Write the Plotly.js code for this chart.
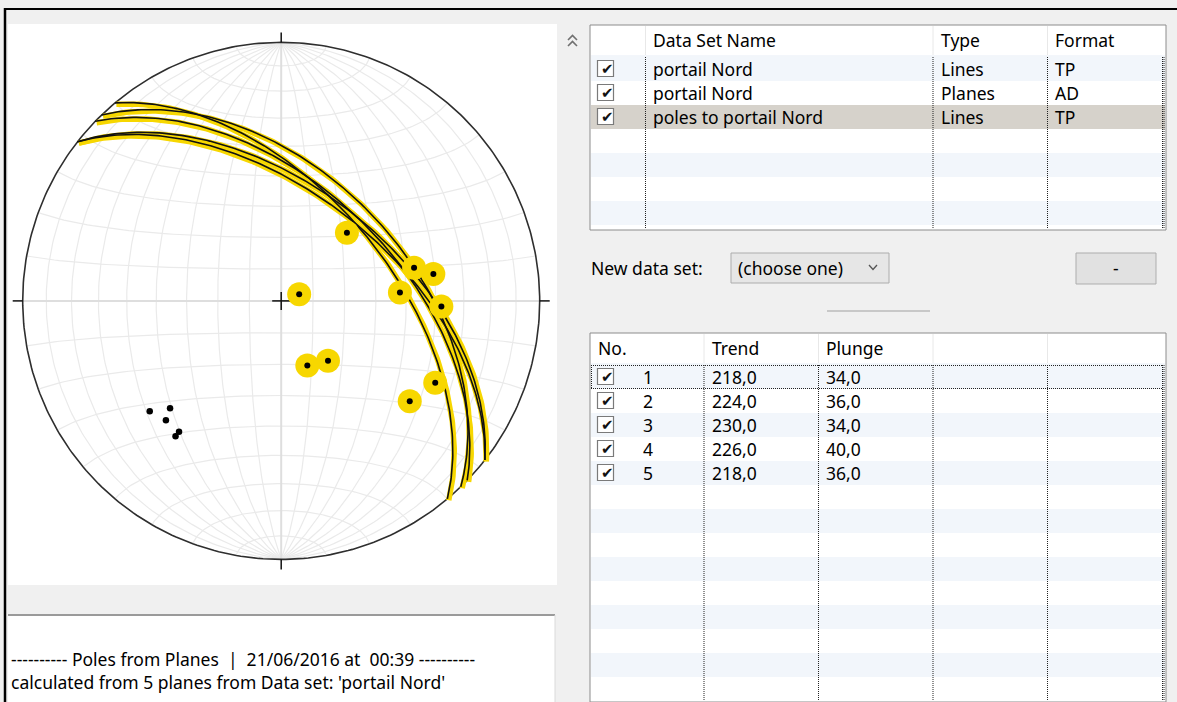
<!DOCTYPE html>
<html><head><meta charset="utf-8">
<script src="https://cdn.plot.ly/plotly-3.0.1.min.js"></script>
<style>html,body{margin:0;padding:0;background:#f0f0f0;overflow:hidden}#chart{width:1177px;height:702px;}</style>
</head><body><div id="chart"></div>
<script>
// ---- data ----
const poleTrend = [218, 224, 230, 226, 218];
const polePlunge = [34, 36, 34, 40, 36];
const planeDipDir = [38, 44, 50, 46, 38];
const planeDip = [56, 54, 56, 50, 54];
const lineTrend = [44, 76, 80, 86, 92, 70, 158, 142, 118, 128];
const linePlunge = [60, 46, 40, 52, 38, 84, 68, 66, 33, 37];

const dsHeader = ['', 'Data Set Name', 'Type', 'Format'];
const dsNames = ['portail Nord', 'portail Nord', 'poles to portail Nord'];
const dsTypes = ['Lines', 'Planes', 'Lines'];
const dsFormats = ['TP', 'AD', 'TP'];
const dsSelected = 2;
const poleHeader = ['No.', '', 'Trend', 'Plunge', '', ''];
const logLines = ['---------- Poles from Planes\u00a0 |\u00a0 21/06/2016 at\u00a0 00:39 ----------',
                  "calculated from 5 planes from Data set: 'portail Nord'"];

// ---- geometry ----
const W = 1177, H = 702;
const CX = 281.2, CY = 300.9, R = 258.5;
const rad = Math.PI / 180;
const X = x => x / W, Y = y => 1 - y / H;
const FONT = 'Noto Sans';
const FS = 17.5;

function projVec(e, n, d) { const k = 1 / Math.sqrt(1 + d); return [e * k, n * k]; }
function projLine(t, p) {
  t *= rad; p *= rad;
  return projVec(Math.cos(p) * Math.sin(t), Math.cos(p) * Math.cos(t), Math.sin(p));
}
function greatCircle(dd, dip, xs, ys) {
  const s = (dd - 90) * rad, a0 = dd * rad, d = dip * rad;
  const u1 = [Math.sin(s), Math.cos(s), 0];
  const u2 = [Math.cos(d) * Math.sin(a0), Math.cos(d) * Math.cos(a0), Math.sin(d)];
  for (let a = 0; a <= 180; a += 1) {
    const c = Math.cos(a * rad), sn = Math.sin(a * rad);
    const p = projVec(c * u1[0] + sn * u2[0], c * u1[1] + sn * u2[1], Math.max(0, c * u1[2] + sn * u2[2]));
    xs.push(p[0]); ys.push(p[1]);
  }
  xs.push(null); ys.push(null);
}
function smallCircleNS(cone, sign, xs, ys) {
  const c = cone * rad;
  for (let f = 0; f <= 180; f += 2) {
    const p = projVec(Math.sin(c) * Math.cos(f * rad), sign * Math.cos(c), Math.sin(c) * Math.sin(f * rad));
    xs.push(p[0]); ys.push(p[1]);
  }
  xs.push(null); ys.push(null);
}

// grid net (10 degree)
const gx = [], gy = [];
for (let d = 10; d <= 80; d += 10) { greatCircle(90, d, gx, gy); greatCircle(270, d, gx, gy); }
for (let c = 10; c <= 80; c += 10) { smallCircleNS(c, 1, gx, gy); smallCircleNS(c, -1, gx, gy); }
const cx = [], cy = [];
greatCircle(90, 90, cx, cy); smallCircleNS(90, 1, cx, cy);

// primitive
const px = [], py = [];
for (let a = 0; a <= 360; a += 1) { px.push(Math.sin(a * rad)); py.push(Math.cos(a * rad)); }

// ticks + centre cross
const tk = 10 / R, cr = 9 / R;
const tx = [0, 0, null, 1, 1 + tk, null, 0, 0, null, -1, -1 - tk, null, -cr, cr, null, 0, 0];
const ty = [1, 1 + tk, null, 0, 0, null, -1, -1 - tk, null, 0, 0, null, 0, 0, null, -cr, cr];

// planes
const plx = [], ply = [];
planeDipDir.forEach((dd, i) => greatCircle(dd, planeDip[i], plx, ply));
const off = 1.4 / R;
const plxY = plx.map(v => v === null ? null : v + off);
const plyY = ply.map(v => v === null ? null : v - off);

const lp = lineTrend.map((t, i) => projLine(t, linePlunge[i]));
const pp = poleTrend.map((t, i) => projLine(t, polePlunge[i]));

const YEL = '#f7d700';
const traces = [
  {x: gx, y: gy, mode: 'lines', line: {color: '#eaeaea', width: 1.2}, hoverinfo: 'skip'},
  {x: cx, y: cy, mode: 'lines', line: {color: '#dedede', width: 2}, hoverinfo: 'skip'},
  {x: px, y: py, mode: 'lines', line: {color: '#2e2e2e', width: 1.6}, hoverinfo: 'skip'},
  {x: tx, y: ty, mode: 'lines', line: {color: '#111', width: 1.5}, hoverinfo: 'skip'},
  {x: plxY, y: plyY, mode: 'lines', line: {color: YEL, width: 5.5}, hoverinfo: 'skip'},
  {x: plx, y: ply, mode: 'lines', line: {color: '#111', width: 1.6}, hoverinfo: 'skip'},
  {x: lp.map(p => p[0]), y: lp.map(p => p[1]), mode: 'markers', marker: {size: 24, color: YEL}, hoverinfo: 'skip'},
  {x: lp.map(p => p[0]), y: lp.map(p => p[1]), mode: 'markers', marker: {size: 6, color: '#000'}, hoverinfo: 'skip'},
  {x: pp.map(p => p[0]), y: pp.map(p => p[1]), mode: 'markers', marker: {size: 6.5, color: '#000'}, hoverinfo: 'skip'}
];

// ---- tables ----
const ROWH = 24, HDRH = 31, TXT_SHIFT = 2;
const T1 = {x0: 590, x1: 1166, top: 26, bottom: 230, rows: 7};
const T2 = {x0: 590, x1: 1166, top: 334, bottom: 702, rows: 14};
function pad(arr, n) { const a = arr.slice(); while (a.length < n) a.push(''); return a; }
const fmt = v => v.toFixed(1).replace('.', ',');
const CHECK = '\u2009\u2714';
const chk1 = dsNames.map(() => CHECK);
const chk2 = poleTrend.map(() => CHECK);
const cellFont = (n, chkCols) => ({
  family: Array.from({length: n}, (_, i) => chkCols.includes(i) ? 'DejaVu Sans' : FONT),
  size: Array.from({length: n}, (_, i) => chkCols.includes(i) ? 15 : FS),
  color: Array.from({length: n}, (_, i) => chkCols.includes(i) ? '#111' : '#000')
});
traces.push({
  type: 'table',
  domain: {x: [X(T1.x0), X(T1.x1)], y: [Y(T1.top + HDRH - TXT_SHIFT + ROWH * T1.rows + 1), Y(T1.top)]},
  columnwidth: [55, 288, 114, 119],
  header: {values: dsHeader, height: HDRH - TXT_SHIFT, align: 'left', fill: {color: 'rgba(0,0,0,0)'},
           line: {width: 0, color: 'rgba(0,0,0,0)'}, font: {family: FONT, size: FS, color: '#000'}},
  cells: {values: [pad(chk1, T1.rows), pad(dsNames, T1.rows), pad(dsTypes, T1.rows), pad(dsFormats, T1.rows)],
          height: ROWH, align: 'left', fill: {color: 'rgba(0,0,0,0)'},
          line: {width: 0, color: 'rgba(0,0,0,0)'}, font: cellFont(4, [0])}
});
traces.push({
  type: 'table',
  domain: {x: [X(T2.x0), X(T2.x1)], y: [Y(T2.top + HDRH - TXT_SHIFT + ROWH * T2.rows + 1), Y(T2.top)]},
  columnwidth: [45, 69, 114, 115, 114, 119],
  header: {values: poleHeader, height: HDRH - TXT_SHIFT, align: 'left', fill: {color: 'rgba(0,0,0,0)'},
           line: {width: 0, color: 'rgba(0,0,0,0)'}, font: {family: FONT, size: FS, color: '#000'}},
  cells: {values: [pad(chk2, T2.rows), pad(poleTrend.map((_, i) => String(i + 1)), T2.rows),
                   pad(poleTrend.map(fmt), T2.rows), pad(polePlunge.map(fmt), T2.rows),
                   pad([], T2.rows), pad([], T2.rows)],
          height: ROWH, align: 'left', fill: {color: 'rgba(0,0,0,0)'},
          line: {width: 0, color: 'rgba(0,0,0,0)'}, font: cellFont(6, [0])}
});

// ---- decorations (shapes) ----
const shapes = [];
function rect(x0, y0, x1, y1, fill, lc, lw, layer) {
  shapes.push({type: 'rect', xref: 'paper', yref: 'paper', x0: X(x0), x1: X(x1), y0: Y(y0), y1: Y(y1),
    fillcolor: fill, line: {color: lc || 'rgba(0,0,0,0)', width: lw || 0}, layer: layer || 'below'});
}
function seg(x0, y0, x1, y1, color, w, dash, layer) {
  shapes.push({type: 'line', xref: 'paper', yref: 'paper', x0: X(x0), x1: X(x1), y0: Y(y0), y1: Y(y1),
    line: {color: color, width: w, dash: dash || 'solid'}, layer: layer || 'below'});
}
function path(pts, color, w) {
  shapes.push({type: 'path', xref: 'paper', yref: 'paper', layer: 'below',
    path: pts.map((p, i) => (i ? 'L' : 'M') + X(p[0]) + ',' + Y(p[1])).join(' '),
    line: {color: color, width: w}});
}
// frame
seg(4, 9, 1177, 9, '#000', 2);
seg(5, 8, 5, 702, '#000', 2.5);
// log box
rect(8, 615, 555, 703, '#ffffff');
seg(8, 615, 555, 615, '#9a9a9a', 2);
seg(555, 615, 555, 702, '#dadada', 1);
// double chevron
path([[568, 40], [572.5, 35.5], [577, 40]], '#707070', 1.6);
path([[568, 46], [572.5, 41.5], [577, 46]], '#707070', 1.6);

function table(T, colX, stripeSel, hdrSeps, nChecked) {
  rect(T.x0, T.top - 1, T.x1, T.bottom, '#ffffff', '#8c8c8c', 1);
  for (let i = 0; i < T.rows + 1; i++) {
    const y0 = T.top + HDRH + i * ROWH, y1 = Math.min(y0 + ROWH, T.bottom - 1);
    if (y0 >= T.bottom - 1) break;
    let c = i % 2 === 0 ? '#f2f6fb' : '#ffffff';
    if (i === stripeSel) c = '#d6d2cb';
    rect(T.x0 + 1, y0, T.x1 - 1, y1, c);
  }
  for (let i = 0; i < nChecked; i++) {
    const yc = T.top + HDRH + i * ROWH + ROWH / 2 - 0.5;
    rect(597.5, yc - 8, 613.5, yc + 8, '#ffffff', '#7a7a7a', 1.2);
  }
  seg(T.x0 + 1, T.top + HDRH - 1, T.x1 - 1, T.top + HDRH - 1, '#e6edf6', 1);
  hdrSeps.forEach(x => seg(x, T.top, x, T.top + HDRH - 2, '#e8e8e8', 1));
  colX.forEach(x => seg(x, T.top + HDRH, x, T.bottom - 1, '#222', 1, '1px,1px'));
  seg(1162.5, T.top + HDRH, 1162.5, T.bottom - 1, '#222', 1, '1px,1px');
  seg(1164, T.top + HDRH, 1164, T.bottom - 1, '#222', 1, '1px,1px');
}
table(T1, [645.5, 933, 1047.5], dsSelected, [645.5, 933, 1047.5], dsNames.length);
table(T2, [704, 818.5, 933, 1047.5], -1, [704, 818.5, 933, 1047.5], poleTrend.length);
// focus rect on first pole row
seg(591, T2.top + HDRH + 0.5, 1162, T2.top + HDRH + 0.5, '#222', 1, '1px,1px');
seg(591, T2.top + HDRH + ROWH - 0.5, 1162, T2.top + HDRH + ROWH - 0.5, '#222', 1, '1px,1px');
seg(591.5, T2.top + HDRH, 591.5, T2.top + HDRH + ROWH, '#222', 1, '1px,1px');
// combo + button + separator
rect(731, 253, 889, 283, '#e6e6e6', '#acacac', 1);
path([[869, 265], [873, 269.5], [877, 265]], '#555', 1.3);
rect(1076, 253, 1156, 284, '#e1e1e1', '#adadad', 1);
seg(827, 311, 930, 311, '#a0a0a0', 1);

const ann = (x, y, text, xanchor) => ({xref: 'paper', yref: 'paper', x: X(x), y: Y(y), text: text,
  showarrow: false, xanchor: xanchor || 'left', yanchor: 'middle', font: {family: FONT, size: FS, color: '#000'}});
const annotations = [
  ann(589, 268, 'New data set:'),
  ann(736, 268, '(choose one)'),
  ann(1116, 268, '-', 'center'),
  ann(9, 659, logLines[0]),
  ann(9, 682, logLines[1])
];

const layout = {
  width: W, height: H, margin: {l: 0, r: 0, t: 0, b: 0, pad: 0},
  paper_bgcolor: '#f0f0f0', plot_bgcolor: '#ffffff', showlegend: false,
  xaxis: {domain: [X(8), X(557)], range: [(8 - CX) / R, (557 - CX) / R], visible: false, fixedrange: true},
  yaxis: {domain: [Y(585), Y(24)], range: [(CY - 585) / R, (CY - 24) / R], visible: false, fixedrange: true},
  shapes: shapes, annotations: annotations
};
Plotly.newPlot('chart', traces, layout, {displayModeBar: false, staticPlot: true});
</script></body></html>
